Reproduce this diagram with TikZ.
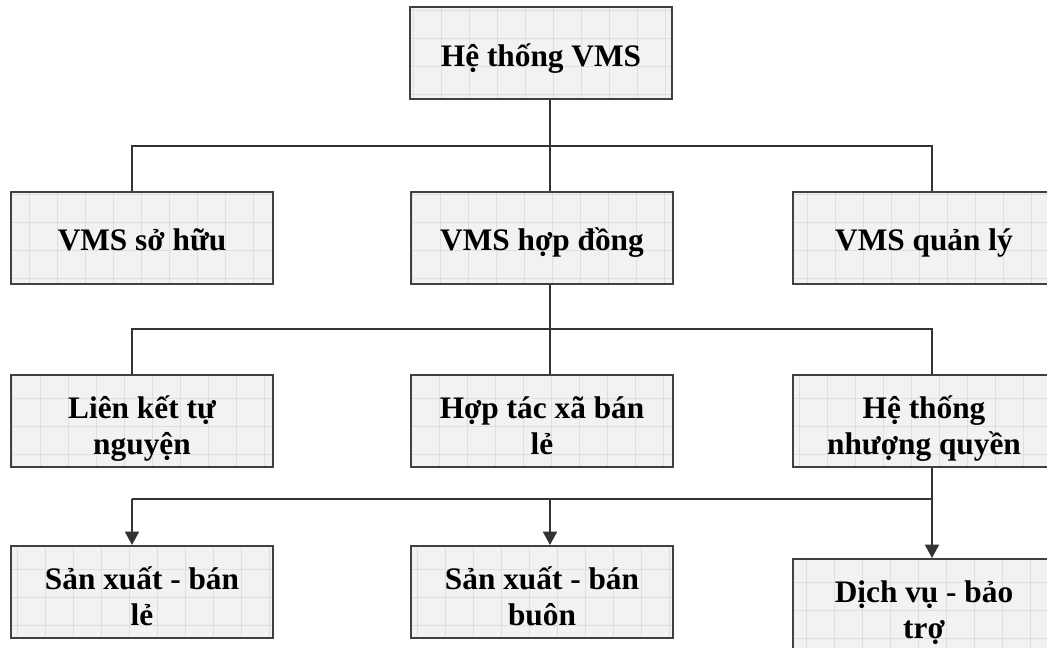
\documentclass[tikz,border=0pt]{standalone}
\usepackage{fontspec}
\setmainfont{Liberation Serif}
\usetikzlibrary{arrows.meta}

% struts for the first and the last line of a box text
\newcommand\toprow{\rule{0pt}{28pt}}
\newcommand\lastrow{\rule[-5pt]{0pt}{5pt}}

\tikzset{
  box/.style={
    draw=black!75, line width=1.5pt, fill=black!5,
    minimum width=196pt, minimum height=69pt,
    inner sep=2pt, align=center,
    font=\fontsize{23.5}{27}\selectfont\bfseries,
    path picture={
      \draw[black!13, line width=0.5pt, step=21pt]
        (path picture bounding box.south west) grid
        (path picture bounding box.north east);
    }
  },
  conn/.style={draw=black!80, line width=1.3pt},
  arr/.style={conn, -{Triangle[width=10.5pt,length=10pt]}}
}

\begin{document}
\begin{tikzpicture}[x=0.75pt,y=-0.75pt]
  \useasboundingbox (0,0) rectangle (1047,648);
  \clip (0,0) rectangle (1047,648);

  % connector columns and bus levels
  \coordinate (cL) at (132,0);
  \coordinate (cM) at (550,0);
  \coordinate (cR) at (932,0);
  \coordinate (b1) at (550,146);
  \coordinate (b2) at (550,329);
  \coordinate (b3) at (550,499);

  % boxes
  \node[box] (top) at (541,53.5) {\rule{0pt}{24pt}Hệ thống VMS\lastrow};

  \node[box] (own) at (142,238) {\rule{0pt}{24pt}VMS sở hữu\lastrow};
  \node[box] (contract) at (542,238) {\rule{0pt}{24pt}VMS hợp đồng\lastrow};
  \node[box] (admin) at (924,238) {\rule{0pt}{24pt}VMS quản lý\lastrow};

  \node[box] (vol) at (142,421.5) {\toprow Liên kết tự\\nguyện\lastrow};
  \node[box] (coop) at (542,421.5) {\toprow Hợp tác xã bán\\lẻ\lastrow};
  \node[box] (fran) at (924,421.5) {\toprow Hệ thống\\nhượng quyền\lastrow};

  \node[box] (retail) at (142,592) {\toprow Sản xuất - bán\\lẻ\lastrow};
  \node[box] (whole) at (542,592) {\toprow Sản xuất - bán\\buôn\lastrow};
  \node[box] (serv) at (924,605) {\toprow Dịch vụ - bảo\\trợ\lastrow};

  % level 1 -> level 2
  \draw[conn] (top.south -| cM) -- (b1 -| cM);
  \draw[conn] (own.north -| cL) |- (b1 -| cR) -- (admin.north -| cR);
  \draw[conn] (b1 -| cM) -- (contract.north -| cM);

  % level 2 -> level 3
  \draw[conn] (contract.south -| cM) -- (b2 -| cM);
  \draw[conn] (vol.north -| cL) |- (b2 -| cR) -- (fran.north -| cR);
  \draw[conn] (b2 -| cM) -- (coop.north -| cM);

  % level 3 -> level 4
  \draw[conn] (fran.south -| cR) -- (b3 -| cR) -- (b3 -| cL);
  \draw[arr] (b3 -| cR) -- (serv.north -| cR);
  \draw[arr] (b3 -| cM) -- (whole.north -| cM);
  \draw[arr] (b3 -| cL) -- (retail.north -| cL);
\end{tikzpicture}
\end{document}
